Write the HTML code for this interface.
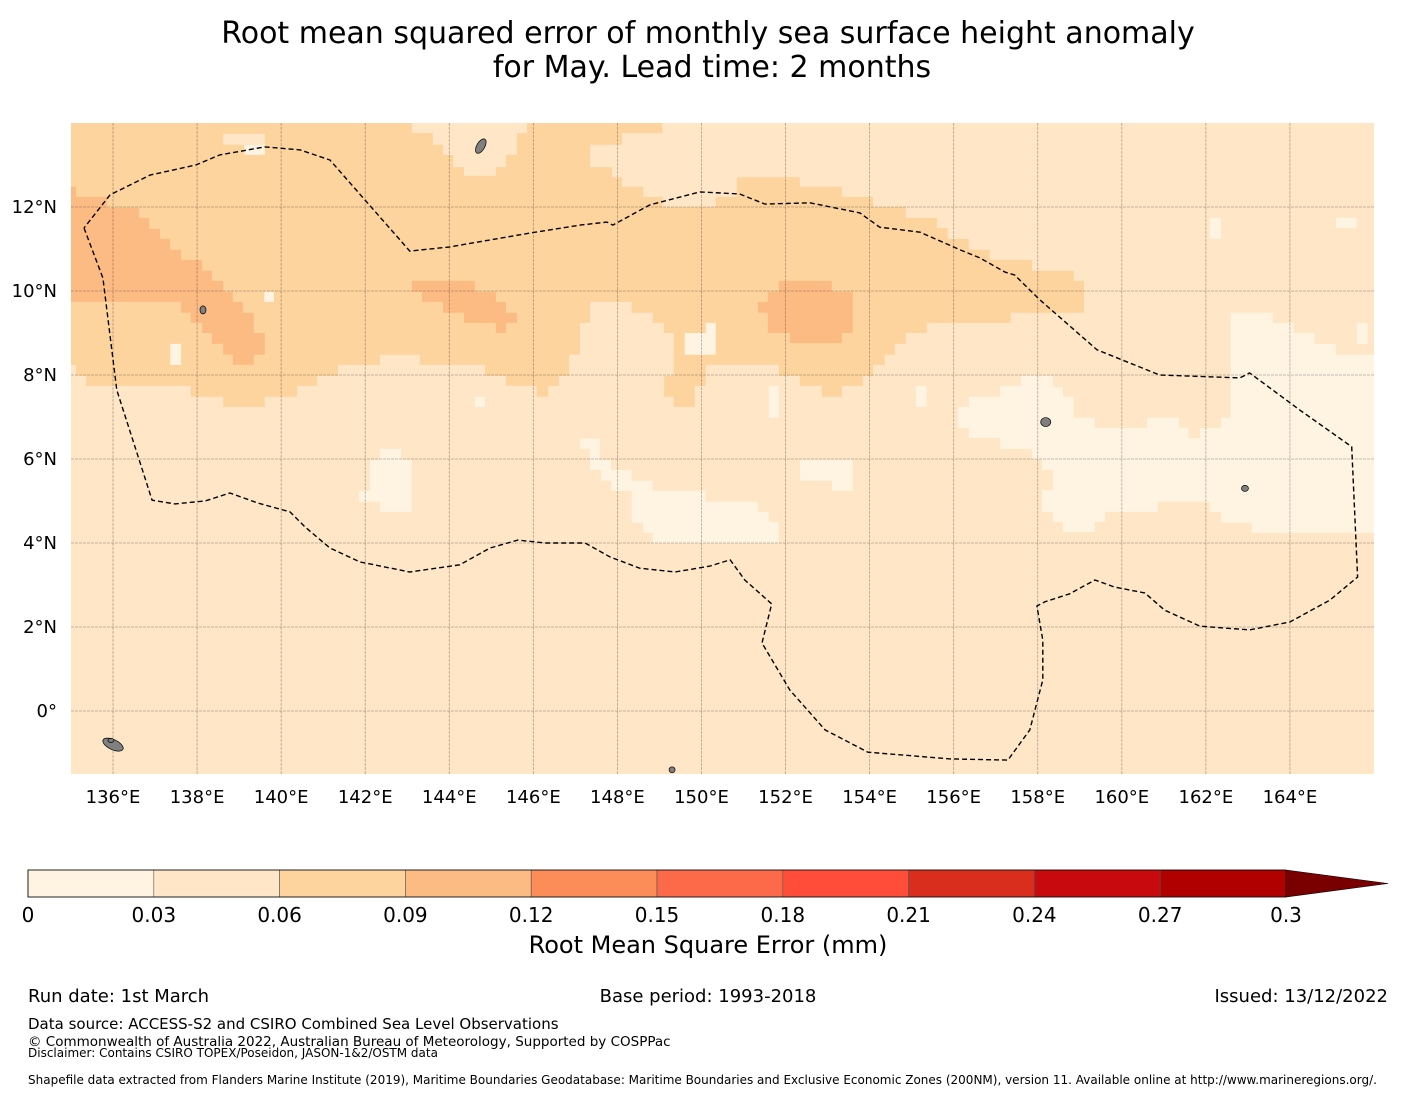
<!DOCTYPE html>
<html><head><meta charset="utf-8"><style>
html,body{margin:0;padding:0;background:#fff;}
svg{display:block;font-family:"DejaVu Sans","Liberation Sans",sans-serif;}
</style></head><body>
<svg id="chart" width="1416" height="1095" viewBox="0 0 1416 1095" xmlns="http://www.w3.org/2000/svg">
<text x="708" y="43" text-anchor="middle" font-size="30" fill="#000">Root mean squared error of monthly sea surface height anomaly</text>
<text x="712" y="77" text-anchor="middle" font-size="30" fill="#000">for May. Lead time: 2 months</text>
<defs><clipPath id="mapclip"><rect x="71" y="123" width="1303" height="651"/></clipPath></defs>
<g id="map" clip-path="url(#mapclip)"></g>
<g id="axes"></g>
<g id="cbar"></g>
<text x="708" y="953" text-anchor="middle" font-size="24">Root Mean Square Error (mm)</text>
<text x="28" y="1002" font-size="18">Run date: 1st March</text>
<text x="708" y="1002" text-anchor="middle" font-size="18">Base period: 1993-2018</text>
<text x="1388" y="1002" text-anchor="end" font-size="18">Issued: 13/12/2022</text>
<text x="28" y="1029" font-size="15">Data source: ACCESS-S2 and CSIRO Combined Sea Level Observations</text>
<text x="28" y="1046" font-size="13.5">© Commonwealth of Australia 2022, Australian Bureau of Meteorology, Supported by COSPPac</text>
<text x="28" y="1057" font-size="12">Disclaimer: Contains CSIRO TOPEX/Poseidon, JASON-1&amp;2/OSTM data</text>
<text x="28" y="1084" font-size="12">Shapefile data extracted from Flanders Marine Institute (2019), Maritime Boundaries Geodatabase: Maritime Boundaries and Exclusive Economic Zones (200NM), version 11. Available online at http://www.marineregions.org/.</text>
</svg>
<script>
// ---- data ----
const lonTicks = [136,138,140,142,144,146,148,150,152,154,156,158,160,162,164];
const latTicks = [0,2,4,6,8,10,12];
const cbarBounds = [0,0.03,0.06,0.09,0.12,0.15,0.18,0.21,0.24,0.27,0.3];
const cbarColors = ["#fff3e2","#fee6c6","#fdd49e","#fdbb84","#fc8d59","#fd6a4a","#ff4d3a","#d92d1e","#c80a0e","#b00000"];
const cbarLabels = ["0","0.03","0.06","0.09","0.12","0.15","0.18","0.21","0.24","0.27","0.3"];
const backgroundValue = 0.045;
const darkRegion = [[135,14],[149.06,14],[149.08,13.76],[148.11,13.76],[148.11,13.48],[147.35,13.48],[147.35,12.95],[147.87,12.95],[147.87,12.71],[148.11,12.71],[148.11,12.48],[148.61,12.48],[148.61,12.24],[149.08,12.24],[149.08,12],[150.34,12],[150.34,12.24],[150.84,12.24],[150.84,12.71],[152.34,12.71],[152.34,12.48],[153.34,12.48],[153.34,12.24],[154.08,12.24],[154.08,12],[154.86,12],[154.86,11.74],[155.6,11.74],[155.6,11.5],[155.86,11.5],[155.86,11.24],[156.36,11.24],[156.36,10.98],[156.86,10.98],[156.86,10.74],[157.86,10.74],[157.86,10.48],[158.86,10.48],[158.86,10.24],[159.1,10.24],[159.1,9.48],[157.36,9.48],[157.36,9.24],[155.36,9.24],[155.36,9],[154.86,9],[154.86,8.74],[154.6,8.74],[154.6,8.48],[154.36,8.48],[154.36,8.24],[154.08,8.24],[154.08,7.98],[153.84,7.98],[153.84,7.74],[153.34,7.74],[153.34,7.48],[152.86,7.48],[152.86,7.74],[152.34,7.74],[152.34,7.98],[151.84,7.98],[151.84,8.24],[150.1,8.24],[150.1,7.74],[149.84,7.74],[149.84,7.24],[149.34,7.24],[149.34,7.48],[149.11,7.48],[149.11,7.98],[149.34,7.98],[149.34,9],[149.11,9],[149.11,9.24],[148.84,9.24],[148.84,9.48],[148.34,9.48],[148.34,9.74],[147.35,9.74],[147.35,9.24],[147.11,9.24],[147.11,8.48],[146.85,8.48],[146.85,7.98],[146.61,7.98],[146.61,7.74],[146.35,7.74],[146.35,7.48],[146.08,7.48],[146.08,7.74],[145.35,7.74],[145.35,7.98],[144.85,7.98],[144.85,8.24],[143.3,8.24],[143.3,8.48],[142.35,8.48],[142.35,8.24],[141.35,8.24],[141.35,7.98],[140.85,7.98],[140.85,7.74],[140.38,7.74],[140.38,7.48],[139.61,7.48],[139.61,7.24],[138.62,7.24],[138.62,7.48],[137.85,7.48],[137.85,7.74],[135.36,7.74],[135.36,7.98],[135.12,7.98],[135.12,8.24],[135,8.24]];
const darkValue = 0.075;
const lightHoles = [
 [[143.11,14],[145.85,14],[145.85,13.76],[145.61,13.76],[145.61,13.24],[145.35,13.24],[145.35,12.95],[145.11,12.95],[145.11,12.74],[144.35,12.74],[144.35,12.95],[144.09,12.95],[144.09,13.24],[143.85,13.24],[143.85,13.48],[143.61,13.48],[143.61,13.76],[143.11,13.76]],
 [[138.62,13.74],[139.61,13.74],[139.61,13.48],[138.62,13.48]]
];
const orangeRegions = [
 [[135,12.48],[135.12,12.48],[135.12,12.24],[135.86,12.24],[135.86,11.98],[136.62,11.98],[136.62,11.74],[136.86,11.74],[136.86,11.48],[137.12,11.48],[137.12,11.24],[137.36,11.24],[137.36,10.98],[137.62,10.98],[137.62,10.74],[138.12,10.74],[138.12,10.48],[138.35,10.48],[138.35,10.24],[138.62,10.24],[138.62,9.98],[138.85,9.98],[138.85,9.74],[139.09,9.74],[139.09,9.48],[139.35,9.48],[139.35,9],[139.61,9],[139.61,8.48],[139.35,8.48],[139.35,8.24],[138.85,8.24],[138.85,8.48],[138.62,8.48],[138.62,8.74],[138.35,8.74],[138.35,9],[138.12,9],[138.12,9.24],[137.85,9.24],[137.85,9.48],[137.62,9.48],[137.62,9.74],[135,9.74]],
 [[143.11,10.24],[144.61,10.24],[144.61,9.98],[145.11,9.98],[145.11,9.74],[145.35,9.74],[145.35,9.48],[145.61,9.48],[145.61,9.24],[145.35,9.24],[145.35,9],[145.11,9],[145.11,9.24],[144.35,9.24],[144.35,9.48],[143.85,9.48],[143.85,9.74],[143.35,9.74],[143.35,9.98],[143.11,9.98]],
 [[151.84,10.24],[153.1,10.24],[153.1,9.98],[153.6,9.98],[153.6,9],[153.34,9],[153.34,8.76],[152.1,8.76],[152.1,9],[151.58,9],[151.58,9.48],[151.34,9.48],[151.34,9.74],[151.58,9.74],[151.58,9.98],[151.84,9.98]]
];
const orangeValue = 0.105;
const paleRegions = [
 [[162.59,9.48],[163.59,9.48],[163.59,9.24],[164.09,9.24],[164.09,9],[164.59,9],[164.59,8.74],[165.09,8.74],[165.09,8.48],[166,8.48],[166,4.24],[163.09,4.24],[163.09,4.48],[162.36,4.48],[162.36,4.74],[162.09,4.74],[162.09,4.98],[160.86,4.98],[160.86,4.74],[159.6,4.74],[159.6,4.5],[159.36,4.5],[159.36,4.26],[158.6,4.26],[158.6,4.5],[158.36,4.5],[158.36,4.74],[158.1,4.74],[158.1,5.26],[158.36,5.26],[158.36,5.74],[158.1,5.74],[158.1,6],[157.86,6],[157.86,6.24],[157.1,6.24],[157.1,6.5],[156.36,6.5],[156.36,6.74],[156.1,6.74],[156.1,7.24],[156.36,7.24],[156.36,7.48],[157.1,7.48],[157.1,7.74],[157.6,7.74],[157.6,7.98],[158.36,7.98],[158.36,7.71],[158.6,7.71],[158.6,7.48],[158.86,7.48],[158.86,6.98],[159.36,6.98],[159.36,6.74],[160.6,6.74],[160.6,6.98],[161.36,6.98],[161.36,6.74],[161.59,6.74],[161.59,6.5],[161.86,6.5],[161.86,6.74],[162.36,6.74],[162.36,6.98],[162.59,6.98]],
 [[142.35,6.24],[142.85,6.24],[142.85,5.98],[143.11,5.98],[143.11,4.74],[142.35,4.74],[142.35,4.98],[141.85,4.98],[141.85,5.24],[142.11,5.24],[142.11,5.98],[142.35,5.98]],
 [[147.11,6.48],[147.58,6.48],[147.58,5.98],[147.85,5.98],[147.85,5.74],[148.34,5.74],[148.34,5.48],[148.84,5.48],[148.84,5.24],[150.1,5.24],[150.1,4.98],[151.34,4.98],[151.34,4.74],[151.6,4.74],[151.6,4.5],[151.84,4.5],[151.84,4],[148.84,4],[148.84,4.24],[148.61,4.24],[148.61,4.48],[148.34,4.48],[148.34,5.24],[147.85,5.24],[147.85,5.48],[147.61,5.48],[147.61,5.74],[147.35,5.74],[147.35,6.24],[147.11,6.24]],
 [[152.34,5.98],[153.6,5.98],[153.6,5.24],[153.1,5.24],[153.1,5.48],[152.34,5.48]],
 [[155.1,7.74],[155.36,7.74],[155.36,7.24],[155.1,7.24]],
 [[165.59,9.24],[165.85,9.24],[165.85,8.74],[165.59,8.74]],
 [[162.09,11.74],[162.36,11.74],[162.36,11.24],[162.09,11.24]],
 [[165.09,11.74],[165.59,11.74],[165.59,11.5],[165.09,11.5]],
 [[144.61,7.48],[144.85,7.48],[144.85,7.24],[144.61,7.24]],
 [[151.6,7.74],[151.84,7.74],[151.84,6.98],[151.6,6.98]],
 [[139.6,9.98],[139.83,9.98],[139.83,9.74],[139.6,9.74]],
 [[137.36,8.74],[137.62,8.74],[137.62,8.24],[137.36,8.24]],
 [[149.6,9],[150.34,9],[150.34,8.48],[149.6,8.48]],
 [[150.1,9.24],[150.34,9.24],[150.34,9],[150.1,9]],
 [[139.12,13.48],[139.61,13.48],[139.61,13.24],[139.12,13.24]]
];
const paleValue = 0.015;
const eezLon = [135.31,135.76,136.09,136.93,137.47,138.19,138.78,139.45,140.21,140.57,141.16,141.87,143.06,144.25,144.97,145.63,146.28,147.23,147.82,148.53,149.37,150.2,150.68,151.03,151.67,151.44,152.1,152.94,153.96,155.91,157.29,157.81,158.12,158.12,157.98,158.17,158.76,159.36,159.83,160.55,161.02,161.86,163.04,164.0,164.95,165.61,165.47,164.23,163.04,162.81,160.9,159.41,158.05,157.45,157.22,156.62,156.15,155.2,154.24,153.77,152.58,151.51,150.91,149.96,148.77,147.89,147.75,147.11,145.92,144.02,143.06,141.16,140.45,139.61,138.54,137.97,136.88,135.93,135.31];
const eezLat = [11.5,10.31,7.64,5.02,4.93,5.0,5.19,4.95,4.74,4.38,3.88,3.55,3.31,3.48,3.88,4.07,4.0,4.0,3.67,3.4,3.31,3.45,3.6,3.12,2.55,1.62,0.5,-0.45,-0.98,-1.14,-1.17,-0.45,0.74,1.69,2.5,2.6,2.79,3.12,2.95,2.81,2.4,2.02,1.93,2.12,2.64,3.19,6.29,7.17,8.05,7.93,8.0,8.6,9.79,10.38,10.45,10.79,10.98,11.4,11.52,11.86,12.1,12.07,12.31,12.36,12.05,11.57,11.64,11.57,11.38,11.05,10.95,13.12,13.36,13.43,13.24,13.0,12.76,12.29,11.5];
const islandNames = ["guam","palau","pohnpei","kosrae","manus","small-island-a","small-island-b"];
const islandLon = [144.75,138.14,158.19,162.93,136.0,149.3,135.95];
const islandLat = [13.45,9.55,6.88,5.3,-0.8,-1.4,-0.7];
const islandRx = [4,3,5,3.5,11,3,3];
const islandRy = [8,4,4.5,3,5,3,2];

// ---- axes ----
const X0=71, X1=1374, Y0=123, Y1=774, LON0=135, LON1=166, LAT0=-1.5, LAT1=14;
const xs = lon => X0 + (lon-LON0)/(LON1-LON0)*(X1-X0);
const ys = lat => Y1 - (lat-LAT0)/(LAT1-LAT0)*(Y1-Y0);
const NS='http://www.w3.org/2000/svg';
function mk(tag, attrs, parent){const e=document.createElementNS(NS,tag);for(const k in attrs)e.setAttribute(k,attrs[k]);parent.appendChild(e);return e;}
function colorFor(v){for(let i=0;i<cbarColors.length;i++){if(v<cbarBounds[i+1])return cbarColors[i];}return '#7a0000';}
function ptsStr(poly){return poly.map(p=>xs(p[0]).toFixed(1)+','+ys(p[1]).toFixed(1)).join(' ');}

const map=document.getElementById('map');
let bg=mk('rect',{x:X0,y:Y0,width:X1-X0,height:Y1-Y0,fill:colorFor(backgroundValue)},map);


let dk=mk('polygon',{points:ptsStr(darkRegion),fill:colorFor(darkValue)},map);


lightHoles.forEach(p=>{const e=mk('polygon',{points:ptsStr(p),fill:colorFor(backgroundValue)},map);
 
 });
orangeRegions.forEach(p=>{const e=mk('polygon',{points:ptsStr(p),fill:colorFor(orangeValue)},map);
 
 });
paleRegions.forEach(p=>{const e=mk('polygon',{points:ptsStr(p),fill:colorFor(paleValue)},map);
 
 });
// gridlines
lonTicks.forEach(l=>{const e=mk('line',{x1:xs(l),x2:xs(l),y1:Y0,y2:Y1,stroke:'#000','stroke-opacity':0.3,'stroke-width':0.8,'stroke-dasharray':'3,1'},map);
 
 });
latTicks.forEach(l=>{const e=mk('line',{x1:X0,x2:X1,y1:ys(l),y2:ys(l),stroke:'#000','stroke-opacity':0.3,'stroke-width':0.8,'stroke-dasharray':'3,1'},map);
 
 });
// islands
islandNames.forEach((n,i)=>{const e=mk('ellipse',{cx:xs(islandLon[i]),cy:ys(islandLat[i]),rx:islandRx[i],ry:islandRy[i],fill:'#808080',stroke:'#000','stroke-width':0.7,transform:'rotate('+(i===0?30:(i===4?25:0))+' '+xs(islandLon[i])+' '+ys(islandLat[i])+')'},map);
 
 });
// EEZ
let eez=mk('polyline',{points:eezLon.map((l,i)=>xs(l).toFixed(1)+','+ys(eezLat[i]).toFixed(1)).join(' '),fill:'none',stroke:'#000','stroke-width':1.4,'stroke-dasharray':'5,3'},map);



// tick labels
const axes=document.getElementById('axes');
lonTicks.forEach(l=>{const t=mk('text',{x:xs(l),y:803,'text-anchor':'middle','font-size':18},axes);t.textContent=l+'°E';
 
 });
latTicks.forEach(l=>{const t=mk('text',{x:57,y:ys(l)+6,'text-anchor':'end','font-size':18},axes);t.textContent=l===0?'0°':l+'°N';
 
 });

// colorbar
const cb=document.getElementById('cbar');
const CB0=28, CB1=1286, CBY=870, CBH=27;
const cx = v => CB0 + (v-cbarBounds[0])/(cbarBounds[cbarBounds.length-1]-cbarBounds[0])*(CB1-CB0);
cbarColors.forEach((c,i)=>{const r=mk('rect',{x:cx(cbarBounds[i]),y:CBY,width:cx(cbarBounds[i+1])-cx(cbarBounds[i]),height:CBH,fill:c,stroke:'#555','stroke-width':0.6},cb);
 
 });
let ar=mk('polygon',{points:CB1+','+CBY+' 1388,'+(CBY+CBH/2)+' '+CB1+','+(CBY+CBH),fill:'#7a0000',stroke:'#000','stroke-width':0.6},cb);


let fr=mk('polyline',{points:CB1+','+CBY+' '+CB0+','+CBY+' '+CB0+','+(CBY+CBH)+' '+CB1+','+(CBY+CBH),fill:'none',stroke:'#000','stroke-width':0.8},cb);


cbarLabels.forEach((s,i)=>{const t=mk('text',{x:cx(cbarBounds[i]),y:922,'text-anchor':'middle','font-size':20},cb);t.textContent=s;
 
 });
</script>
</body></html>
